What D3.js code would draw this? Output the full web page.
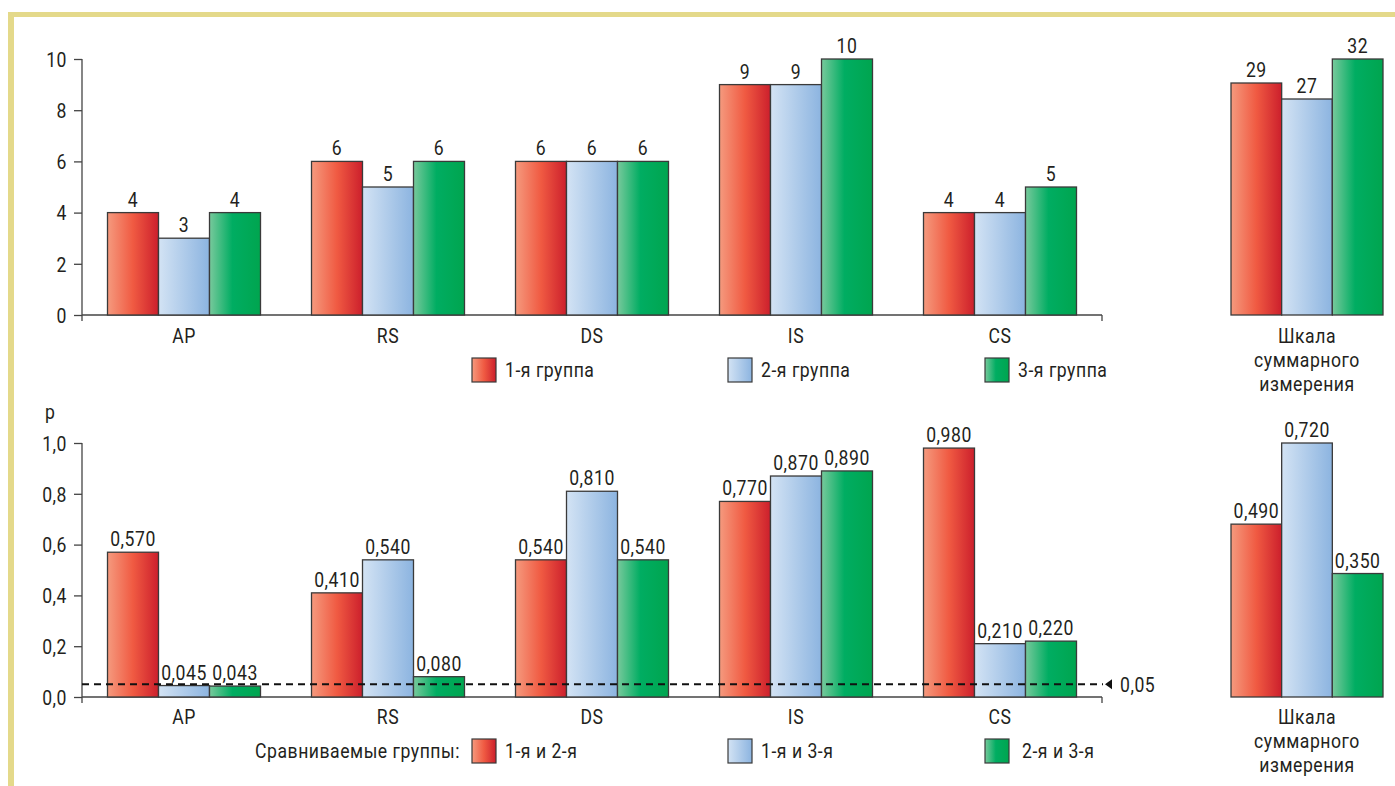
<!DOCTYPE html>
<html><head><meta charset="utf-8">
<script src="https://cdn.jsdelivr.net/npm/d3@7"></script>
<style>
html,body{margin:0;padding:0;background:#fff;}
svg{display:block;}
text{font-family:Roboto,"Liberation Sans",sans-serif;fill:#231f20;}
</style></head>
<body>
<script>
// ---- data ----
const categories = ["AP","RS","DS","IS","CS"];
const groupNames = ["1-я группа","2-я группа","3-я группа"];
const scoreG1 = [4,6,6,9,4];
const scoreG2 = [3,5,6,9,4];
const scoreG3 = [4,6,6,10,5];
const totalLabel = ["Шкала","суммарного","измерения"];
const totalScores = [29,27,32];
const scoreTicks = [0,2,4,6,8,10];

const pairNames = ["1-я и 2-я","1-я и 3-я","2-я и 3-я"];
const pairLegendTitle = "Сравниваемые группы:";
const p12 = [0.570,0.410,0.540,0.770,0.980];
const p13 = [0.045,0.540,0.810,0.870,0.210];
const p23 = [0.043,0.080,0.540,0.890,0.220];
const totalP = [0.490,0.720,0.350];
const pTicks = [0,0.2,0.4,0.6,0.8,1.0];
const pThreshold = 0.05;

const W = 1395, H = 786;
const svg = d3.select("body").append("svg").attr("width",W).attr("height",H);
const SX = 0.88, LS = "0.6px";

function txt(parent, x, y, str, size, anchor, dy){
  return parent.append("text")
    .attr("transform",`translate(${x},${y}) scale(${SX},1)`)
    .attr("text-anchor",anchor||"start")
    .attr("dy",dy||0)
    .style("font-size",size+"px").style("letter-spacing",LS)
    .text(str);
}

// gradients
const defs = svg.append("defs");
const grads = [
  [["0%","#f59a7e"],["50%","#f05a42"],["100%","#cc1f2c"]],
  [["0%","#d3e3f4"],["100%","#8cb4e0"]],
  [["0%","#78c99c"],["45%","#00ad62"],["100%","#00a54f"]]
];
grads.forEach((stops,i)=>{
  const g = defs.append("linearGradient").attr("id","g"+i).attr("x1","0%").attr("x2","100%").attr("y1","0%").attr("y2","0%");
  stops.forEach(s=>g.append("stop").attr("offset",s[0]).attr("stop-color",s[1]));
});

// frame
svg.append("rect").attr("x",8).attr("y",12).attr("width",W).attr("height",5).attr("fill","#e4d98a");
svg.append("rect").attr("x",8).attr("y",12).attr("width",6).attr("height",H).attr("fill","#e4d98a");

const axisX0 = 82, axisX1 = 1102;
const x0 = d3.scaleBand().domain(categories).range([axisX0,axisX1]).paddingInner(0.25).paddingOuter(0.125);
const x1 = d3.scaleBand().domain([0,1,2]).range([0,x0.bandwidth()]);
const xr = d3.scaleBand().domain([0,1,2]).range([1231,1383]);

const fs = 20, fs2 = 20;

function panel(opts){
  const {series, ticks, y, yFmt, totals, yTot, labFmt, baseY, catY, totalLabY} = opts;
  const g = svg.append("g");
  const ax = g.append("g").attr("transform",`translate(${axisX0},0)`)
    .call(d3.axisLeft(y).tickValues(ticks).tickFormat(yFmt).tickSize(8).tickSizeOuter(0));
  ax.select(".domain").remove();
  ax.selectAll(".tick line").attr("stroke","#444").attr("stroke-width",1.3);
  ax.selectAll(".tick text")
    .attr("x",-15/SX).attr("dy","0.36em").attr("transform",`scale(${SX},1)`)
    .style("font-size",fs+"px").style("letter-spacing",LS).attr("fill","#231f20")
    .style("font-family","Roboto, 'Liberation Sans', sans-serif");
  g.append("line").attr("x1",axisX0).attr("x2",axisX0).attr("y1",y(ticks[ticks.length-1])).attr("y2",baseY+6).attr("stroke","#444").attr("stroke-width",1.3);
  g.append("line").attr("x1",axisX0).attr("x2",axisX1).attr("y1",baseY).attr("y2",baseY).attr("stroke","#444").attr("stroke-width",1.3);
  g.append("line").attr("x1",axisX1).attr("x2",axisX1).attr("y1",baseY).attr("y2",baseY+6).attr("stroke","#444").attr("stroke-width",1.3);
  series.forEach((vals,si)=>{
    vals.forEach((v,ci)=>{
      const bx = x0(categories[ci]) + x1(si);
      g.append("rect").attr("x",bx).attr("y",y(v)).attr("width",x1.bandwidth()).attr("height",baseY-y(v))
        .attr("fill",`url(#g${si})`).attr("stroke","#3a3a3a").attr("stroke-width",1.3);
    });
  });
  series.forEach((vals,si)=>{
    vals.forEach((v,ci)=>{
      const bx = x0(categories[ci]) + x1(si) + x1.bandwidth()/2;
      txt(g, bx, y(v)-6, labFmt(v), fs, "middle");
    });
  });
  categories.forEach(c=>{
    txt(g, x0(c)+x0.bandwidth()/2, catY, c, fs2, "middle");
  });
  totals.forEach((v,i)=>{
    g.append("rect").attr("x",xr(i)).attr("y",yTot(v)).attr("width",xr.bandwidth()).attr("height",baseY-yTot(v))
      .attr("fill",`url(#g${i})`).attr("stroke","#3a3a3a").attr("stroke-width",1.3);
    txt(g, xr(i)+xr.bandwidth()/2, yTot(v)-6, labFmt(v), fs, "middle");
  });
  totalLabel.forEach((t,i)=>{
    txt(g, 1307, totalLabY+i*24, t, fs2, "middle");
  });
  return g;
}

function legend(names, ly, xs, txs, title){
  names.forEach((n,i)=>{
    svg.append("rect").attr("x",xs[i]).attr("y",ly-12).attr("width",24).attr("height",24)
      .attr("fill",`url(#g${i})`).attr("stroke","#3a3a3a").attr("stroke-width",1.2);
    txt(svg, txs[i], ly, n, fs2, "start", "0.36em");
  });
  if(title){
    txt(svg, xs[0]-12, ly, title, fs2, "end", "0.36em");
  }
}

// top panel
const yTop = d3.scaleLinear().domain([0,10]).range([315,59]);
const yTopTot = d3.scaleLinear().domain([0,32]).range([315,59]);
panel({series:[scoreG1,scoreG2,scoreG3], ticks:scoreTicks, y:yTop, yFmt:d3.format("d"),
  totals:totalScores, yTot:yTopTot, labFmt:d=>String(d), baseY:315, catY:343, totalLabY:343});
legend(groupNames, 370, [472,728,985], [505,761,1018]);

// bottom panel
const comma = d=>d.toFixed(3).replace(".",",");
const yBot = d3.scaleLinear().domain([0,1]).range([697,443]);
const yBotTot = d3.scaleLinear().domain([0,0.72]).range([697,443]);
panel({series:[p12,p13,p23], ticks:pTicks, y:yBot, yFmt:d=>d.toFixed(1).replace(".",","),
  totals:totalP, yTot:yBotTot, labFmt:comma, baseY:697, catY:724, totalLabY:724});
txt(svg, 45, 419, "p", fs2, "start");
const ty = yBot(pThreshold);
svg.append("line").attr("x1",axisX0).attr("x2",1103).attr("y1",ty).attr("y2",ty)
  .attr("stroke","#111").attr("stroke-width",2).attr("stroke-dasharray","7,5");
svg.append("path").attr("d",`M${1105},${ty} l7,-5 l0,10 z`).attr("fill","#111");
txt(svg, 1120, ty, "0,05", fs, "start", "0.36em");
legend(pairNames, 751, [472,728,985], [505,761,1022], pairLegendTitle);
</script>
</body></html>
